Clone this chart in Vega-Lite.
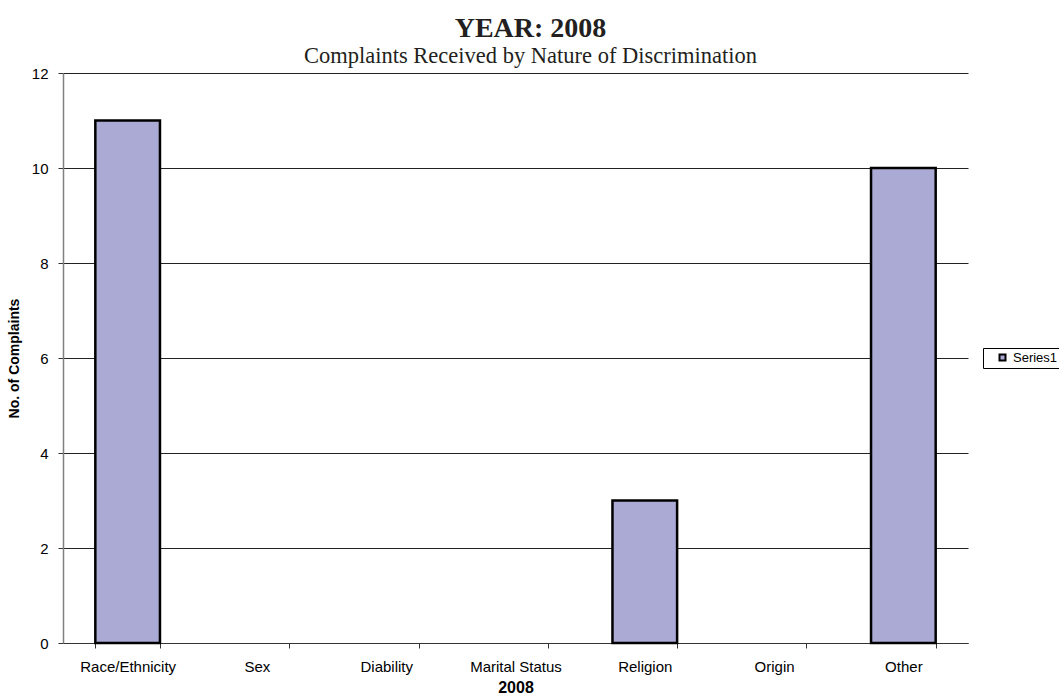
{
  "$schema": "https://vega.github.io/schema/vega-lite/v6.json",
  "autosize": {"type": "none"},
  "width": 905,
  "height": 570,
  "padding": {"left": 63, "top": 73, "right": 91, "bottom": 57},
  "background": "white",
  "title": {
    "text": "YEAR: 2008",
    "subtitle": "Complaints Received by Nature of Discrimination",
    "font": "Liberation Serif",
    "fontSize": 28,
    "fontWeight": "bold",
    "color": "#231f20",
    "subtitleFont": "Liberation Serif",
    "subtitleFontSize": 22.5,
    "subtitleColor": "#231f20",
    "subtitlePadding": 2,
    "anchor": "middle",
    "dx": 15,
    "offset": -1
  },
  "data": {
    "values": [
      {"category": "Race/Ethnicity", "count": 11, "series": "Series1"},
      {"category": "Sex", "count": 0, "series": "Series1"},
      {"category": "Diability", "count": 0, "series": "Series1"},
      {"category": "Marital Status", "count": 0, "series": "Series1"},
      {"category": "Religion", "count": 3, "series": "Series1"},
      {"category": "Origin", "count": 0, "series": "Series1"},
      {"category": "Other", "count": 10, "series": "Series1"}
    ]
  },
  "mark": {"type": "bar", "stroke": "black", "strokeWidth": 2.5},
  "encoding": {
    "x": {
      "field": "category",
      "type": "nominal",
      "sort": null,
      "scale": {"paddingInner": 0.5, "paddingOuter": 0.25},
      "axis": {
        "title": "2008",
        "titleFont": "Liberation Sans",
        "titleFontSize": 16,
        "titleFontWeight": "bold",
        "titleColor": "black",
        "titlePadding": 5,
        "labelAngle": 0,
        "labelFont": "Liberation Sans",
        "labelFontSize": 15,
        "labelColor": "black",
        "labelPadding": 11,
        "domainColor": "#333333",
        "tickColor": "#333333",
        "tickBand": "extent",
        "tickSize": 5,
        "grid": false
      }
    },
    "y": {
      "field": "count",
      "type": "quantitative",
      "scale": {"domain": [0, 12], "nice": false},
      "axis": {
        "title": "No. of Complaints",
        "titleFont": "Liberation Sans",
        "titleFontSize": 14,
        "titleFontWeight": "bold",
        "titleColor": "black",
        "titlePadding": 10,
        "values": [0, 2, 4, 6, 8, 10, 12],
        "labelFont": "Liberation Sans",
        "labelFontSize": 15,
        "labelColor": "black",
        "labelPadding": 10,
        "domainColor": "#808080",
        "domainWidth": 1.5,
        "tickColor": "#333333",
        "tickSize": 5,
        "grid": true,
        "gridColor": "#222222",
        "gridWidth": 1
      }
    },
    "strokeOpacity": {
      "condition": {"test": "datum.count == 0", "value": 0},
      "value": 1
    },
    "color": {
      "field": "series",
      "type": "nominal",
      "scale": {"range": ["#aaaad5"]},
      "legend": {
        "title": null,
        "orient": "none",
        "legendX": 920,
        "legendY": 275,
        "symbolType": "square",
        "symbolSize": 36,
        "symbolStrokeColor": "black",
        "symbolStrokeWidth": 2,
        "symbolOffset": 10,
        "labelFont": "Liberation Sans",
        "labelFontSize": 13,
        "labelColor": "black",
        "labelOffset": 4,
        "strokeColor": "black",
        "padding": 3
      }
    }
  },
  "config": {
    "view": {"stroke": null}
  }
}
